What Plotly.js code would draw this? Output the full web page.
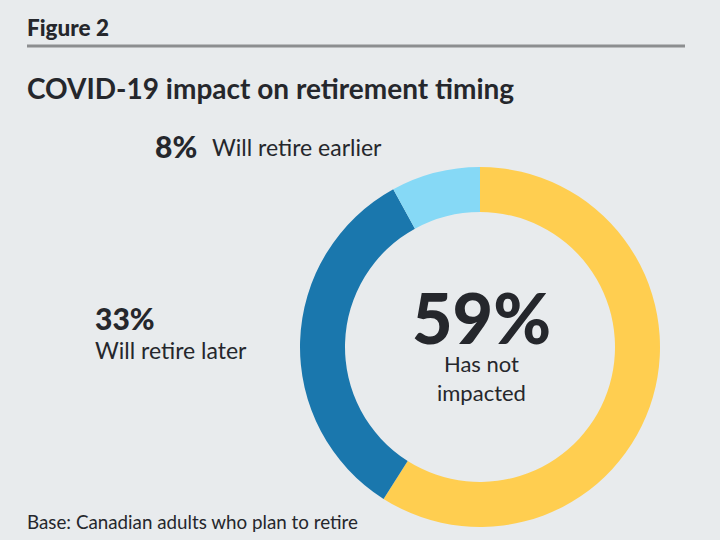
<!DOCTYPE html>
<html>
<head>
<meta charset="utf-8">
<script src="https://cdn.plot.ly/plotly-3.0.1.min.js"></script>
<style>html,body{margin:0;padding:0;background:#E8EBED;}</style>
</head>
<body>
<div id="chart" style="width:720px;height:540px;"></div>
<script>
const categories = ["Has not impacted", "Will retire later", "Will retire earlier"];
const values = [59, 33, 8];
const sliceColors = ["#FFCE50", "#1A77AD", "#86D9F6"];
const figureLabel = "Figure 2";
const chartTitle = "COVID-19 impact on retirement timing";
const footnote = "Base: Canadian adults who plan to retire";

const W = 720, H = 540;
const px = x => x / W;
const py = y => 1 - y / H;
const dark = "#25272C";
const font = "Lato, 'Open Sans', sans-serif";

const data = [{
  type: "pie",
  labels: categories,
  values: values,
  sort: false,
  direction: "clockwise",
  rotation: 0,
  hole: 0.75,
  marker: {colors: sliceColors, line: {width: 0}},
  textinfo: "none",
  hoverinfo: "label+percent",
  domain: {x: [px(300), px(660)], y: [py(527), py(167)]}
}];

const ann = [];
function add(text, x, y, size, weight, xanchor) {
  ann.push({
    text: text,
    x: px(x), y: py(y), xref: "paper", yref: "paper",
    xanchor: xanchor || "left", yanchor: "middle",
    showarrow: false,
    font: {family: font, size: size, color: dark, weight: weight}
  });
}
add(figureLabel, 25, 27, 22.5, 900);
add(chartTitle, 25, 88, 28, 700);
add(values[2] + "%", 153, 146, 30, 900);
add(categories[2], 210, 147, 23, 400);
add(values[1] + "%", 93, 318, 30, 900);
add(categories[1], 93, 350, 23, 400);
add(values[0] + "%", 482, 317, 70, 900, "center");
add("Has not<br>impacted", 482, 378, 22, 400, "center");
add(footnote, 25, 521, 18.8, 400);

const layout = {
  width: W, height: H,
  margin: {l: 0, r: 0, t: 0, b: 0},
  paper_bgcolor: "#E8EBED",
  plot_bgcolor: "#E8EBED",
  showlegend: false,
  annotations: ann,
  shapes: [{
    type: "line", xref: "paper", yref: "paper",
    x0: px(27), x1: px(685), y0: py(46), y1: py(46),
    line: {color: "#8C8E90", width: 3}
  }]
};

Plotly.newPlot("chart", data, layout, {displayModeBar: false, staticPlot: true});
</script>
</body>
</html>
